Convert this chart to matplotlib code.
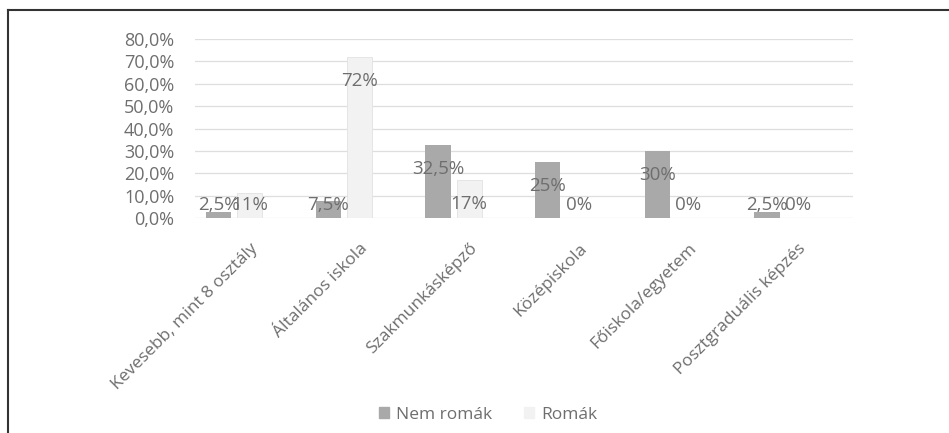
import numpy as np
import matplotlib.pyplot as plt
from matplotlib.lines import Line2D

categories = ['Kevesebb, mint 8 osztály', 'Általános iskola', 'Szakmunkásképző',
              'Középiskola', 'Főiskola/egyetem', 'Posztgraduális képzés']
nem_romak = [2.5, 7.5, 32.5, 25, 30, 2.5]
romak = [11, 72, 17, 0, 0, 0]
nem_labels = ['2,5%', '7,5%', '32,5%', '25%', '30%', '2,5%']
romak_labels = ['11%', '72%', '17%', '0%', '0%', '0%']
yticks = [0, 10, 20, 30, 40, 50, 60, 70, 80]

plt.rcParams['font.family'] = ['Open Sans', 'DejaVu Sans']
txt = '#6e6e6e'

fig = plt.figure(figsize=(9.49, 4.33), dpi=100)
ax = fig.add_axes([195 / 949, 1 - 218 / 433, 658 / 949, 179 / 433])

x = np.arange(len(categories))
w = 0.23
b1 = ax.bar(x - 0.285, nem_romak, w, color='#a9a9a9', zorder=3)
b2 = ax.bar(x, romak, w, color='#f2f2f2', edgecolor='#e2e2e2', linewidth=0.6, zorder=3)

# data labels: just below the bar top, but never lower than the small-value line
for bars, labs in ((b1, nem_labels), (b2, romak_labels)):
    for bar, lab in zip(bars, labs):
        v = bar.get_height()
        ypos = max(v - 10.7, 5.8)
        ax.text(bar.get_x() + bar.get_width() / 2, ypos, lab, ha='center', va='center',
                fontsize=13.5, color=txt, zorder=4)

ax.set_xlim(-0.5, len(categories) - 0.5)
ax.set_ylim(0, 80)
ax.set_yticks(yticks)
ax.set_yticklabels([f'{t:.1f}%'.replace('.', ',') for t in yticks], fontsize=13, color=txt)
ax.set_xticks(x)
ax.set_xticklabels(categories, rotation=45, ha='right', rotation_mode='anchor',
                   fontsize=12.5, color=txt)
ax.tick_params(axis='both', length=0)
ax.tick_params(axis='y', pad=15)
ax.tick_params(axis='x', pad=16)
ax.grid(axis='y', color='#dedede', linewidth=0.9, zorder=0)
for s in ax.spines.values():
    s.set_visible(False)

handles = [plt.Rectangle((0, 0), 1, 1, color='#a9a9a9'),
           plt.Rectangle((0, 0), 1, 1, color='#f2f2f2')]
fig.legend(handles, ['Nem romák', 'Romák'], loc='center', ncol=2,
           bbox_to_anchor=(488 / 949, 1 - 415 / 433), frameon=False,
           fontsize=12.5, labelcolor=txt, handlelength=0.6, handleheight=0.6,
           handletextpad=0.4, columnspacing=1.8)

# outer frame (left and top edges visible)
fig.add_artist(Line2D([8 / 949, 8 / 949], [0, 1 - 10 / 433], color='#333333', lw=1.5))
fig.add_artist(Line2D([8 / 949, 1], [1 - 10 / 433, 1 - 10 / 433], color='#333333', lw=1.5))

fig.savefig('out.png', dpi=100, facecolor='white')
